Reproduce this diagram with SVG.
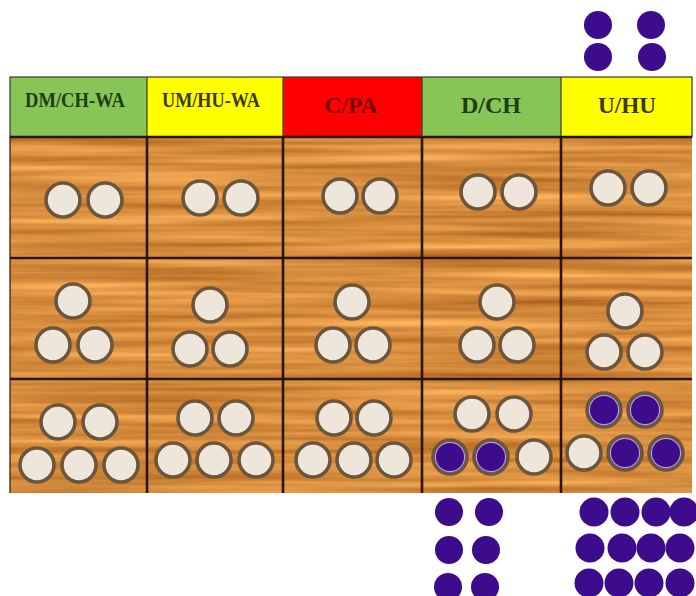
<svg xmlns="http://www.w3.org/2000/svg" width="696" height="596" viewBox="0 0 696 596">
<style>
.hd{font-family:"Liberation Serif","Times New Roman",serif;font-weight:bold;text-anchor:middle}
.sm{font-size:20px}
.lg{font-size:24px}
.hl{stroke:#3a3a2a;stroke-width:1.2}
.gl{stroke:#2a1406;stroke-width:2.6}
.c{fill:#eee5db;stroke:#6b563b;stroke-width:3.6}
.p{fill:#3c0c8a;stroke:#6b563b;stroke-width:3.6}
.pr{fill:none;stroke:#b89be0;stroke-width:1.2}
.d{fill:#3d0c8c}
</style>
<defs>
<filter id="grain" x="0" y="0" width="100%" height="100%" filterUnits="objectBoundingBox" color-interpolation-filters="sRGB">
<feTurbulence type="fractalNoise" baseFrequency="0.003 0.11" numOctaves="3" seed="7"/>
<feColorMatrix type="matrix" values="0.45 0 0 0 0.62  0.45 0 0 0 0.33  0.35 0 0 0 0.07  0 0 0 0 1"/>
</filter>
</defs>
<rect width="696" height="596" fill="#ffffff"/>
<rect x="10" y="137" width="682" height="356" fill="#d99548" filter="url(#grain)"/>

<g id="header">
<rect x="10" y="77" width="137" height="60" fill="#88c557"/>
<rect x="147" y="77" width="136" height="60" fill="#ffff00"/>
<rect x="283" y="77" width="139" height="60" fill="#ff0000"/>
<rect x="422" y="77" width="139" height="60" fill="#88c557"/>
<rect x="561" y="77" width="131" height="60" fill="#ffff00"/>
<rect x="10" y="77" width="682" height="60" fill="none" class="hl"/>
<line x1="147" y1="77" x2="147" y2="137" class="hl"/>
<line x1="283" y1="77" x2="283" y2="137" class="hl"/>
<line x1="422" y1="77" x2="422" y2="137" class="hl"/>
<line x1="561" y1="77" x2="561" y2="137" class="hl"/>
<text x="75" y="107" class="hd sm" fill="#1f3d12" textLength="100" lengthAdjust="spacingAndGlyphs">DM/CH-WA</text>
<text x="211" y="107" class="hd sm" fill="#3a3800" textLength="98" lengthAdjust="spacingAndGlyphs">UM/HU-WA</text>
<text x="351" y="113" class="hd lg" fill="#7a0505" textLength="53" lengthAdjust="spacingAndGlyphs">C/PA</text>
<text x="491" y="113" class="hd lg" fill="#1f3d12" textLength="60" lengthAdjust="spacingAndGlyphs">D/CH</text>
<text x="627" y="113" class="hd lg" fill="#3a3800" textLength="58" lengthAdjust="spacingAndGlyphs">U/HU</text>
</g>

<g id="grid">
<line x1="10" y1="137" x2="692" y2="137" class="gl"/>
<line x1="10" y1="258" x2="692" y2="258" class="gl"/>
<line x1="10" y1="379" x2="692" y2="379" class="gl"/>
<line x1="10" y1="137" x2="10" y2="493" stroke="#2a1406" stroke-width="1.2"/>
<line x1="147" y1="137" x2="147" y2="493" class="gl"/>
<line x1="283" y1="137" x2="283" y2="493" class="gl"/>
<line x1="422" y1="137" x2="422" y2="493" class="gl"/>
<line x1="561" y1="137" x2="561" y2="493" class="gl"/>
</g>

<g id="r1c1"><circle cx="63" cy="200" r="17" class="c"/><circle cx="105" cy="200" r="17" class="c"/></g>
<g id="r1c2"><circle cx="200" cy="198" r="17" class="c"/><circle cx="241" cy="198" r="17" class="c"/></g>
<g id="r1c3"><circle cx="340" cy="196" r="17" class="c"/><circle cx="380" cy="196" r="17" class="c"/></g>
<g id="r1c4"><circle cx="478" cy="192" r="17" class="c"/><circle cx="519" cy="192" r="17" class="c"/></g>
<g id="r1c5"><circle cx="608" cy="188" r="17" class="c"/><circle cx="649" cy="188" r="17" class="c"/></g>

<g id="r2c1"><circle cx="73" cy="301" r="17" class="c"/><circle cx="53" cy="345" r="17" class="c"/><circle cx="95" cy="345" r="17" class="c"/></g>
<g id="r2c2"><circle cx="210" cy="305" r="17" class="c"/><circle cx="190" cy="349" r="17" class="c"/><circle cx="230" cy="349" r="17" class="c"/></g>
<g id="r2c3"><circle cx="352" cy="302" r="17" class="c"/><circle cx="333" cy="345" r="17" class="c"/><circle cx="373" cy="345" r="17" class="c"/></g>
<g id="r2c4"><circle cx="497" cy="302" r="17" class="c"/><circle cx="477" cy="345" r="17" class="c"/><circle cx="517" cy="345" r="17" class="c"/></g>
<g id="r2c5"><circle cx="625" cy="311" r="17" class="c"/><circle cx="604" cy="352" r="17" class="c"/><circle cx="645" cy="352" r="17" class="c"/></g>

<g id="r3c1"><circle cx="58" cy="422" r="17" class="c"/><circle cx="100" cy="422" r="17" class="c"/><circle cx="37" cy="465" r="17" class="c"/><circle cx="79" cy="465" r="17" class="c"/><circle cx="121" cy="465" r="17" class="c"/></g>
<g id="r3c2"><circle cx="195" cy="418" r="17" class="c"/><circle cx="236" cy="418" r="17" class="c"/><circle cx="173" cy="460" r="17" class="c"/><circle cx="214" cy="460" r="17" class="c"/><circle cx="256" cy="460" r="17" class="c"/></g>
<g id="r3c3"><circle cx="334" cy="418" r="17" class="c"/><circle cx="374" cy="418" r="17" class="c"/><circle cx="313" cy="460" r="17" class="c"/><circle cx="354" cy="460" r="17" class="c"/><circle cx="394" cy="460" r="17" class="c"/></g>
<g id="r3c4"><circle cx="472" cy="414" r="17" class="c"/><circle cx="514" cy="414" r="17" class="c"/>
<circle cx="450" cy="457" r="17" class="p"/><circle cx="450" cy="457" r="14.6" class="pr"/>
<circle cx="491" cy="457" r="17" class="p"/><circle cx="491" cy="457" r="14.6" class="pr"/>
<circle cx="534" cy="457" r="17" class="c"/></g>
<g id="r3c5"><circle cx="604" cy="410" r="17" class="p"/><circle cx="604" cy="410" r="14.6" class="pr"/>
<circle cx="645" cy="410" r="17" class="p"/><circle cx="645" cy="410" r="14.6" class="pr"/>
<circle cx="584" cy="453" r="17" class="c"/>
<circle cx="625" cy="453" r="17" class="p"/><circle cx="625" cy="453" r="14.6" class="pr"/>
<circle cx="666" cy="453" r="17" class="p"/><circle cx="666" cy="453" r="14.6" class="pr"/></g>

<g id="dots-top"><circle cx="598" cy="25" r="14" class="d"/><circle cx="651" cy="25" r="14" class="d"/><circle cx="598" cy="57" r="14" class="d"/><circle cx="652" cy="57" r="14" class="d"/></g>
<g id="dots-dch"><circle cx="449" cy="512" r="14" class="d"/><circle cx="489" cy="512" r="14" class="d"/><circle cx="449" cy="550" r="14" class="d"/><circle cx="486" cy="550" r="14" class="d"/><circle cx="448" cy="587" r="14" class="d"/><circle cx="485" cy="587" r="14" class="d"/></g>
<g id="dots-uhu">
<circle cx="594" cy="512" r="14.5" class="d"/><circle cx="625" cy="512" r="14.5" class="d"/><circle cx="656" cy="512" r="14.5" class="d"/><circle cx="684" cy="512" r="14.5" class="d"/>
<circle cx="590" cy="548" r="14.5" class="d"/><circle cx="622" cy="548" r="14.5" class="d"/><circle cx="651" cy="548" r="14.5" class="d"/><circle cx="680" cy="548" r="14.5" class="d"/>
<circle cx="589" cy="583" r="14.5" class="d"/><circle cx="619" cy="583" r="14.5" class="d"/><circle cx="649" cy="583" r="14.5" class="d"/><circle cx="680" cy="583" r="14.5" class="d"/>
</g>
</svg>
